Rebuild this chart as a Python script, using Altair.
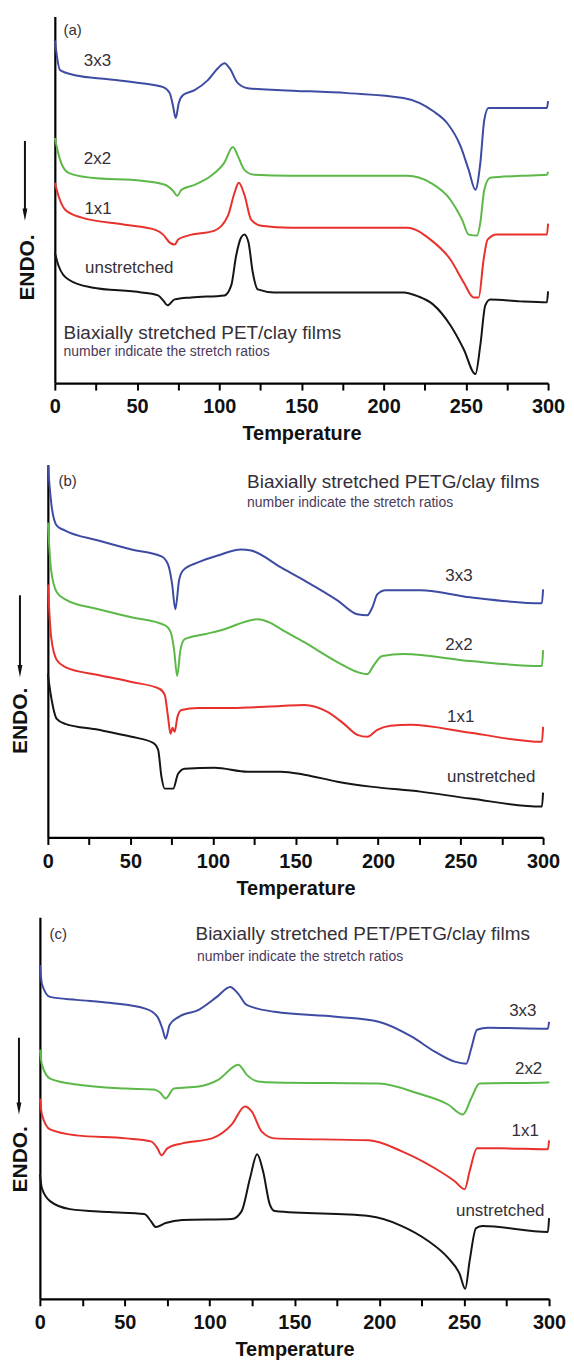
import altair as alt
import pandas as pd

FONT = "Liberation Sans"
SERIES = ["3x3", "2x2", "1x1", "unstretched"]
COLORS = ["#3d4ba3", "#5cb848", "#e8312c", "#151515"]
TEXT_COLOR = "#353038"

# ---------------- Panel (a): PET/clay ----------------
A_BLUE_T = [0, 3.2, 12.3, 32.5, 52.7, 65.9, 69.9, 71.9, 73.5, 75.4, 78, 85, 93.1, 99.2, 103.2, 106.3, 111.3, 117.4, 137.6, 178, 212, 222, 230, 238.6, 246.7, 251.7, 255.8, 258.8, 261.2, 263.8, 283, 299.3, 300]
A_BLUE_V = [344, 314, 309, 305, 301, 297, 291, 278, 266, 281, 289, 294, 304, 316, 321, 316, 301, 296, 294, 291, 286, 281, 273, 261, 238, 214, 194, 221, 264, 276, 276, 276, 283]
A_GREEN_T = [0, 3.2, 8.3, 22.4, 52.7, 66.9, 71.9, 74.5, 77, 85, 95, 103, 108.3, 111.3, 115.3, 121.4, 143.6, 178, 214.4, 228.5, 240.6, 247.7, 251.7, 256.8, 258.8, 261.2, 264.8, 283, 299.3, 300]
A_GREEN_V = [246, 224, 211, 206, 203, 199, 193, 188, 194, 199, 208, 221, 237, 228, 214, 209, 208, 208, 208, 201, 184, 164, 149, 148, 161, 194, 206, 208, 209, 212]
A_RED_T = [0, 2.2, 6.3, 16.4, 42.6, 60.8, 65.9, 69.9, 72.9, 75, 81, 97.2, 105.3, 109.3, 111.9, 115.3, 119.4, 125.5, 143.6, 214.4, 228.5, 240.6, 248.7, 254.7, 257.8, 260.8, 263.2, 268.9, 283, 299.3, 300]
A_RED_V = [201, 188, 174, 166, 159, 154, 149, 141, 139, 144, 148, 153, 168, 191, 201, 189, 164, 158, 156, 156, 144, 124, 101, 86, 86, 124, 144, 149, 149, 149, 160]
A_BLACK_T = [0, 2.2, 8.3, 22.4, 52.7, 62.8, 65.9, 68.5, 72.9, 83, 103.2, 107.3, 110.3, 113.3, 115.3, 117.8, 120.4, 123.4, 133.5, 212, 221, 230, 240.6, 248.7, 255.8, 258.8, 261.8, 264.8, 283, 299.3, 300]
A_BLACK_V = [131, 118, 104, 96, 91, 88, 83, 78, 84, 86, 88, 98, 128, 146, 149, 141, 111, 94, 91, 91, 87, 79, 58, 34, 9, 38, 78, 84, 82, 81, 92]

# ---------------- Panel (b): PETG/clay ----------------
B_BLUE_T = [0, 2.4, 5.4, 10.5, 30.6, 50.7, 68.8, 72.8, 75.3, 77.2, 79.5, 81.9, 90.9, 103, 117, 123.1, 141.2, 155.3, 175.4, 187.5, 193.5, 196.6, 199.6, 204.6, 225.7, 255.9, 299.3, 300]
B_BLUE_V = [373, 331, 313, 308, 298, 289, 282, 274, 254, 229, 258, 268, 276, 283, 289, 288, 271, 258, 238, 224, 223, 231, 244, 248, 248, 241, 235, 249]
B_GREEN_T = [0, 2, 5.4, 10.5, 30.6, 50.7, 70.8, 74.4, 76.5, 78.3, 80.3, 82.9, 94.9, 107, 115.1, 127.2, 135.2, 141.2, 155.3, 175.4, 187.5, 193.5, 197.5, 202.6, 215.6, 255.9, 299.3, 300]
B_GREEN_V = [316, 268, 246, 239, 229, 221, 213, 206, 188, 162, 188, 199, 204, 209, 214, 219, 215, 209, 196, 176, 166, 164, 173, 182, 184, 177, 172, 188]
B_RED_T = [0, 2, 5.4, 10.5, 30.6, 50.7, 67.8, 70.8, 72.8, 74.3, 75.6, 76.8, 78.5, 80.9, 90.9, 111, 141.2, 155.3, 169.4, 179.4, 187.5, 193.5, 199.6, 207.6, 219.7, 255.9, 299.3, 300]
B_RED_V = [254, 201, 178, 171, 163, 156, 149, 143, 121, 104, 110, 106, 121, 128, 130, 130, 132, 133, 126, 114, 103, 101, 108, 112, 113, 105, 96, 111]
B_BLACK_T = [0, 2, 5.4, 10.5, 30.6, 50.7, 63.8, 66.8, 68.8, 70.8, 75.9, 78.9, 82.9, 101, 121.1, 141.2, 155.3, 175.4, 195.5, 225.7, 255.9, 299.3, 300]
B_BLACK_V = [164, 141, 119, 114, 108, 101, 95, 88, 61, 49, 49, 64, 69, 70, 66, 66, 63, 56, 51, 46, 39, 31, 45]

# ---------------- Panel (c): PET/PETG/clay ----------------
C_BLUE_T = [0, 1.2, 6, 21.6, 41, 62.5, 69.3, 72.2, 74.1, 76.5, 81.9, 93.6, 104.3, 112.1, 116.9, 121.8, 138.4, 174.4, 199.6, 219.1, 232.7, 244.4, 251.2, 254.1, 257.6, 263.9, 299.3, 300]
C_BLUE_V = [335, 316, 303, 300, 297, 291, 283, 271, 261, 275, 283, 290, 303, 313, 306, 295, 288, 283, 278, 263, 248, 238, 236, 251, 270, 272, 271, 278]
C_GREEN_T = [0, 1.2, 6, 21.6, 50.8, 67.3, 70.8, 74.1, 79, 93.6, 105.3, 116.9, 121.8, 128.6, 138.4, 199.6, 223, 240.5, 249.3, 254.1, 259, 299.3, 300]
C_GREEN_V = [250, 235, 221, 215, 211, 210, 207, 201, 211, 213, 220, 235, 225, 218, 217, 216, 206, 195, 185, 201, 216, 217, 218]
C_RED_T = [0, 1.2, 6, 21.6, 50.8, 65.4, 69.3, 71.6, 75.1, 83.9, 101.4, 113.1, 120.8, 124.8, 130.6, 138.4, 193.8, 213.3, 232.7, 244.4, 250.3, 253.2, 257.6, 271.6, 299.3, 300]
C_RED_V = [201, 185, 170, 164, 161, 158, 151, 144, 151, 156, 161, 175, 193, 188, 168, 161, 159, 148, 131, 118, 110, 128, 151, 151, 150, 159]
C_BLACK_T = [0, 1.2, 6, 17.7, 41, 61.5, 65.4, 68.3, 74.1, 83.9, 113.1, 118.9, 123.8, 128, 131.5, 135.4, 138.4, 193.8, 213.3, 228.8, 240.5, 247.3, 250.6, 253.2, 257, 260.9, 299.3, 300]
C_BLACK_V = [125, 111, 98, 90, 87, 85, 78, 72, 76, 79, 80, 88, 121, 145, 128, 95, 88, 83, 73, 58, 41, 25, 10, 38, 71, 73, 67, 81]

# ---------------- Text content ----------------
TAGS = ["(a)", "(b)", "(c)"]
TITLES = ["Biaxially stretched PET/clay films",
          "Biaxially stretched PETG/clay films",
          "Biaxially stretched PET/PETG/clay films"]
SUBTITLE = "number indicate the stretch ratios"
X_TITLE = "Temperature"
Y_TITLE = "ENDO."
X_TICKS = list(range(0, 301, 25))


def make_panel(curves, ymax, width, height, tag_pos, title_text, title_pos, sub_pos,
               label_pos, label_align, endo, arrow, spacer_x):
    rows = []
    for name, (ts, vs) in zip(SERIES, curves):
        for t, v in zip(ts, vs):
            rows.append({"T": t, "v": v, "s": name})
    df = pd.DataFrame(rows)

    X = alt.X("T:Q", scale=alt.Scale(domain=[0, 300], nice=False, zero=False),
              title=X_TITLE,
              axis=alt.Axis(values=X_TICKS,
                            labelExpr="datum.value % 50 == 0 ? datum.label : ''",
                            labelFlush=False, labelOverlap=False, grid=False,
                            domainColor="black", domainWidth=2.2,
                            tickColor="black", tickWidth=2, tickSize=7,
                            labelFont=FONT, labelFontSize=20, labelFontWeight="bold",
                            labelColor="#111", labelPadding=7,
                            titleFont=FONT, titleFontSize=20, titleFontWeight="bold",
                            titleColor="#111", titlePadding=7))
    Y = alt.Y("v:Q", scale=alt.Scale(domain=[0, ymax], nice=False, zero=False),
              title=None,
              axis=alt.Axis(labels=False, ticks=False, grid=False,
                            domainColor="black", domainWidth=2.2))

    lines = alt.Chart(df).mark_line(interpolate="monotone", strokeWidth=2).encode(
        x=X, y=Y,
        color=alt.Color("s:N", scale=alt.Scale(domain=SERIES, range=COLORS), legend=None),
        detail="s:N",
    )

    tag_df = pd.DataFrame([{"T": tag_pos[0], "v": tag_pos[1], "txt": tag_pos[2]}])
    tag = alt.Chart(tag_df).mark_text(font=FONT, fontSize=15, align="left", baseline="middle",
                                      color=TEXT_COLOR).encode(x=X, y=Y, text="txt:N")

    title_df = pd.DataFrame([{"T": title_pos[0], "v": title_pos[1], "txt": title_text}])
    title = alt.Chart(title_df).mark_text(font=FONT, fontSize=19, align="left", baseline="middle",
                                          color=TEXT_COLOR).encode(x=X, y=Y, text="txt:N")

    sub_df = pd.DataFrame([{"T": sub_pos[0], "v": sub_pos[1], "txt": SUBTITLE}])
    sub = alt.Chart(sub_df).mark_text(font=FONT, fontSize=14, align="left", baseline="middle",
                                      color="#4a3a5a").encode(x=X, y=Y, text="txt:N")

    lab_df = pd.DataFrame([{"T": p[0], "v": p[1], "txt": n} for n, p in zip(SERIES, label_pos)])
    labs = alt.Chart(lab_df).mark_text(font=FONT, fontSize=17, align=label_align, baseline="middle",
                                       color=TEXT_COLOR).encode(x=X, y=Y, text="txt:N")

    endo_df = pd.DataFrame([{"v": endo[1], "txt": Y_TITLE}])
    endo_t = alt.Chart(endo_df).mark_text(font=FONT, fontSize=21, fontWeight="bold", angle=270,
                                          align="center", baseline="middle", color="#111").encode(
        x=alt.value(endo[0]), y=Y, text="txt:N")

    arr_df = pd.DataFrame([{"v": arrow[1], "v2": arrow[2] + 8}])
    shaft = alt.Chart(arr_df).mark_rule(color="#111", strokeWidth=2).encode(
        x=alt.value(arrow[0]), y=Y, y2="v2:Q")
    head_df = pd.DataFrame([{"v": arrow[2] + 6}])
    head = alt.Chart(head_df).mark_point(shape="M -0.4 -1 L 0.4 -1 L 0 1 Z", filled=True,
                                         size=150, color="#111", opacity=1).encode(
        x=alt.value(arrow[0]), y=Y)

    spacer = alt.Chart(head_df).mark_rule(color="white", strokeWidth=1).encode(
        x=alt.value(spacer_x), y=alt.value(height - 2), y2=alt.value(height - 1))

    return alt.layer(spacer, lines, tag, title, sub, labs, endo_t, shaft, head).properties(
        width=width, height=height)


def blank(w):
    return alt.Chart(pd.DataFrame({"z": [0]})).mark_rule(color="white", strokeWidth=0.5).encode(
        x=alt.value(0), y=alt.value(0), y2=alt.value(1)).properties(width=w, height=1)


pa = make_panel(
    [(A_BLUE_T, A_BLUE_V), (A_GREEN_T, A_GREEN_V), (A_RED_T, A_RED_V), (A_BLACK_T, A_BLACK_V)],
    368, 495, 368,
    tag_pos=(5.3, 354, TAGS[0]), title_text=TITLES[0], title_pos=(5.3, 50), sub_pos=(5.3, 31),
    label_pos=[(17.6, 323), (17.6, 225), (18, 175), (18.4, 115)], label_align="left",
    endo=(-27, 116), arrow=(-30, 243, 163), spacer_x=-38)

pb = make_panel(
    [(B_BLUE_T, B_BLUE_V), (B_GREEN_T, B_GREEN_V), (B_RED_T, B_RED_V), (B_BLACK_T, B_BLACK_V)],
    374, 497, 374,
    tag_pos=(6.4, 358, TAGS[1]), title_text=TITLES[1], title_pos=(120.7, 357), sub_pos=(120.7, 336),
    label_pos=[(240.8, 262), (240.8, 193), (241.8, 121), (241.8, 61)], label_align="left",
    endo=(-26.5, 117), arrow=(-28, 243, 161), spacer_x=-37)

pc = make_panel(
    [(C_BLUE_T, C_BLUE_V), (C_GREEN_T, C_GREEN_V), (C_RED_T, C_RED_V), (C_BLACK_T, C_BLACK_V)],
    383, 511, 383,
    tag_pos=(5.7, 366, TAGS[2]), title_text=TITLES[2], title_pos=(91.7, 366), sub_pos=(92.6, 343),
    label_pos=[(292.6, 289), (296, 231), (294, 168), (297.3, 88)], label_align="right",
    endo=(-18.5, 140), arrow=(-21, 262, 185), spacer_x=-29)

row_a = alt.hconcat(blank(7), pa, spacing=0)
row_b = alt.hconcat(blank(1), pb, spacing=0)
row_c = alt.hconcat(blank(1), pc, spacing=0)

chart = alt.vconcat(row_a, row_b, row_c, spacing=18).properties(
    padding={"left": 0, "top": 5, "right": 0, "bottom": 0}
).configure(font=FONT).configure_view(strokeWidth=0)

chart.save("out.html", embed_options={"renderer": "svg", "actions": False})
